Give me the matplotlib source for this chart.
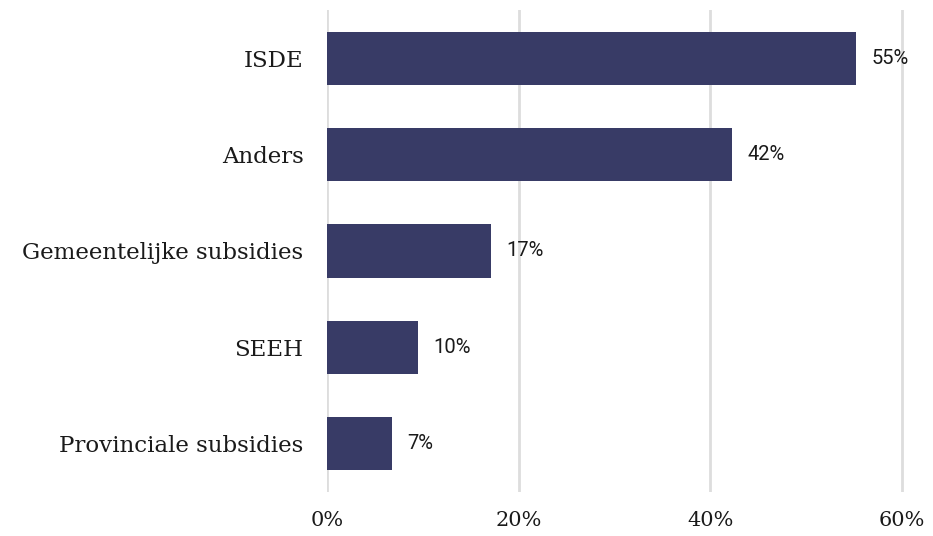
import matplotlib.pyplot as plt

# Data
categories = ["ISDE", "Anders", "Gemeentelijke subsidies", "SEEH", "Provinciale subsidies"]
values = [55.2, 42.3, 17.1, 9.5, 6.8]
value_labels = ["55%", "42%", "17%", "10%", "7%"]
xticks = [0, 20, 40, 60]
xtick_labels = ["0%", "20%", "40%", "60%"]

fig = plt.figure(figsize=(9.33, 5.36), dpi=100)
px60 = (902 - 327) / 60
ax = fig.add_axes([327 / 933, 1 - 492 / 536, 61 * px60 / 933, (492 - 10) / 536])

ypos = range(len(categories))
bars = ax.barh(ypos, values, height=0.55, color="#383b66", zorder=2)
ax.set_ylim(4.5, -0.5)
ax.set_xlim(0, 61)

ax.set_yticks(list(ypos))
ax.set_yticklabels(categories, family="DejaVu Serif", fontsize=16.5, color="#1a1a1a")
ax.set_xticks(xticks)
ax.set_xticklabels(xtick_labels, family="DejaVu Serif", fontsize=15, color="#1a1a1a")
ax.tick_params(length=0)
ax.tick_params(axis="y", pad=17)
ax.tick_params(axis="x", pad=14)

ax.grid(axis="x", color="#dddddd", linewidth=2, zorder=0)
for s in ax.spines.values():
    s.set_visible(False)

# Value labels next to bars
for bar, lab in zip(bars, value_labels):
    ax.text(bar.get_width() + 1.6, bar.get_y() + bar.get_height() / 2, lab,
            va="center", ha="left", family="Roboto", fontsize=14.5,
            color="#1a1a1a", clip_on=False)

plt.savefig("out.png", dpi=100)
